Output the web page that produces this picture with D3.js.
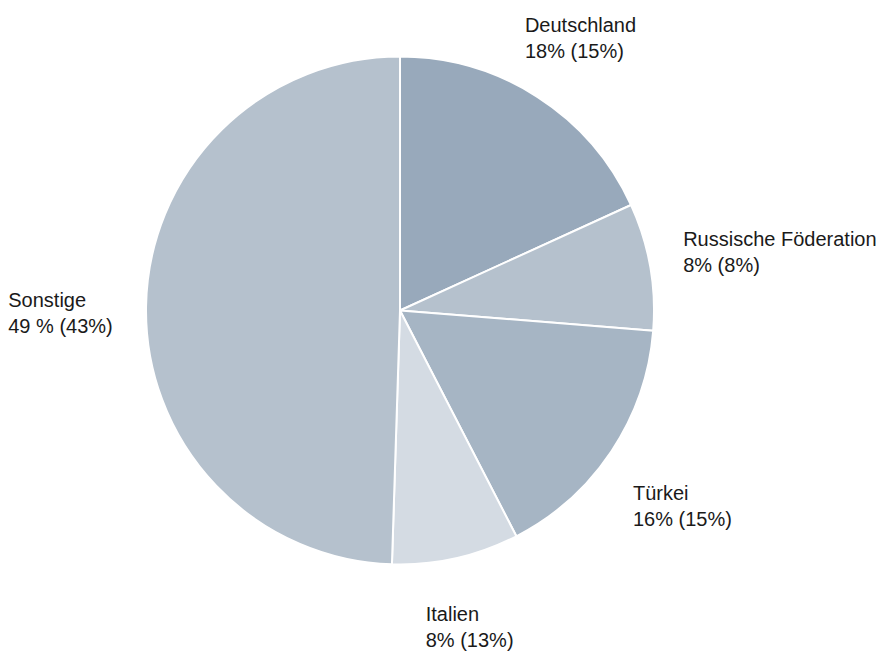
<!DOCTYPE html>
<html>
<head>
<meta charset="utf-8">
<script src="https://cdn.jsdelivr.net/npm/d3@7"></script>
<style>
  html, body { margin: 0; padding: 0; background: #fff; }
  svg text { font-family: Arial, "Liberation Sans", sans-serif; font-size: 20px; fill: #1a1a1a; }
</style>
</head>
<body>
<svg id="chart" width="896" height="661"></svg>
<script>
// Anteile nach Ländern (Vorjahreswerte in Klammern)
const countries = ["Deutschland", "Russische Föderation", "Türkei", "Italien", "Sonstige"];
const shares = [18, 8, 16, 8, 49];
const shareLabels = ["18%", "8%", "16%", "8%", "49 %"];
const priorLabels = ["(15%)", "(8%)", "(15%)", "(13%)", "(43%)"];
const colors = ["#98a9bb", "#b5c1cd", "#a6b5c4", "#d4dbe3", "#b5c1cd"];

const width = 896, height = 661;
const cx = 400, cy = 310.5, radius = 254;
const labelGap = 33, lineStep = 26;

const data = countries.map((c, i) => ({
  name: c, value: shares[i], share: shareLabels[i], prior: priorLabels[i], color: colors[i]
}));

const svg = d3.select("#chart");
const g = svg.append("g").attr("transform", `translate(${cx},${cy})`);

const pie = d3.pie().sort(null).value(d => d.value);
const arc = d3.arc().innerRadius(0).outerRadius(radius);
const arcs = pie(data);

g.selectAll("path.slice")
  .data(arcs)
  .join("path")
  .attr("class", "slice")
  .attr("d", arc)
  .attr("fill", d => d.data.color)
  .attr("stroke", "#fff")
  .attr("stroke-width", 2)
  .attr("stroke-linejoin", "round");

// Labels: two-line blocks placed outside the rim, pushed out by their own extent
const labels = g.selectAll("g.label")
  .data(arcs)
  .join("g")
  .attr("class", "label");

labels.each(function(d) {
  const lg = d3.select(this);
  const t1 = lg.append("text").text(d.data.name);
  const t2 = lg.append("text").text(`${d.data.share} ${d.data.prior}`);
  const w = Math.max(t1.node().getComputedTextLength(), t2.node().getComputedTextLength());
  const h = 40;
  const mid = (d.startAngle + d.endAngle) / 2;
  const ux = Math.sin(mid), uy = -Math.cos(mid);
  const r = radius + labelGap + Math.abs(ux) * w / 2 + Math.abs(uy) * h / 2;
  const bx = r * ux, by = r * uy;
  const left = bx - w / 2;
  const b1 = by + 2;
  t1.attr("x", left).attr("y", b1);
  t2.attr("x", left).attr("y", b1 + lineStep);
});
</script>
</body>
</html>
